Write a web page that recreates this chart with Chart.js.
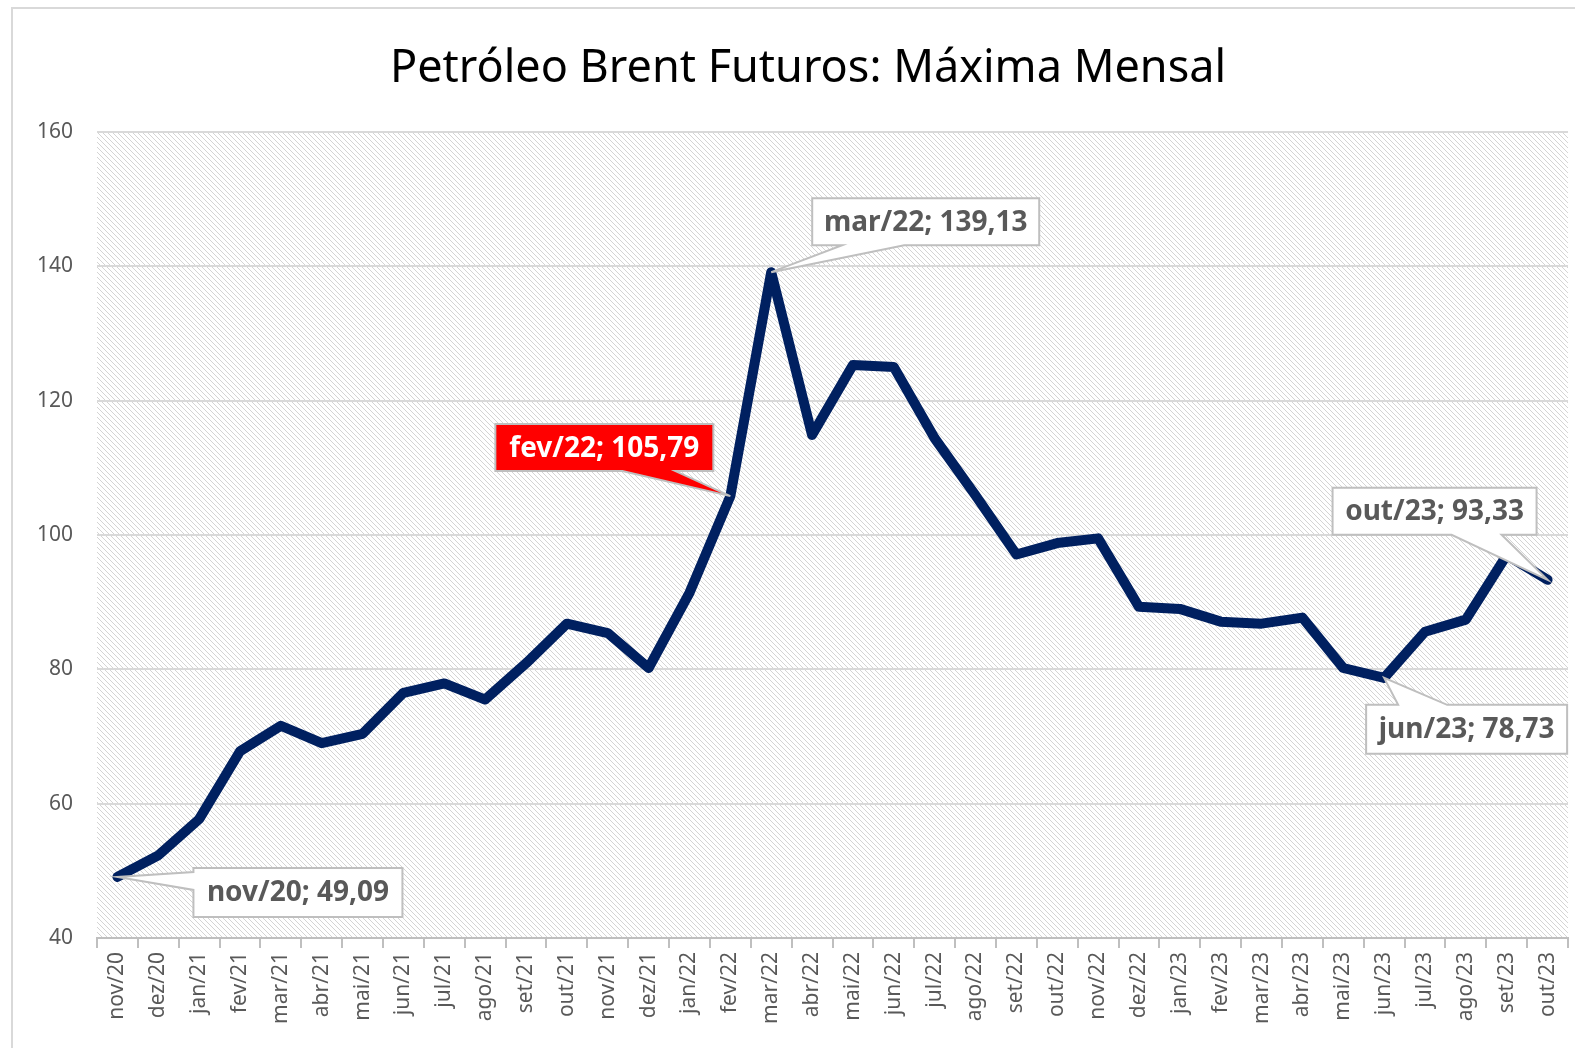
<!DOCTYPE html>
<html>
<head>
<meta charset="utf-8">
<script src="https://cdn.jsdelivr.net/npm/chart.js@4"></script>
<style>
  html, body { margin: 0; padding: 0; background: #ffffff; overflow: hidden; }
  #frame {
    position: absolute; left: 11px; top: 7px; width: 1562px; height: 1100px;
    border-left: 2px solid #d9d9d9; border-top: 2px solid #d9d9d9;
  }
  #wrap { position: absolute; left: 0; top: 0; width: 1583px; height: 1048px; }
</style>
</head>
<body>
<div id="frame"></div>
<div id="wrap"><canvas id="brentChart"></canvas></div>
<script>
/*
  @desc: monthly data
*/
const months = [
  "nov/20", "dez/20", "jan/21", "fev/21", "mar/21", "abr/21", "mai/21", "jun/21",
  "jul/21", "ago/21", "set/21", "out/21", "nov/21", "dez/21", "jan/22", "fev/22",
  "mar/22", "abr/22", "mai/22", "jun/22", "jul/22", "ago/22", "set/22", "out/22",
  "nov/22", "dez/22", "jan/23", "fev/23", "mar/23", "abr/23", "mai/23", "jun/23",
  "jul/23", "ago/23", "set/23", "out/23"
];
const maxima = [
  49.09, 52.3, 57.7, 67.8, 71.6, 69.0, 70.4, 76.5,
  77.9, 75.5, 80.9, 86.8, 85.4, 80.2, 91.4, 105.79,
  139.13, 114.9, 125.3, 125.0, 114.4, 105.9, 97.1, 98.8,
  99.5, 89.3, 89.0, 87.1, 86.8, 87.7, 80.2, 78.73,
  85.6, 87.4, 97.0, 93.33
];
const yTicks = [40, 60, 80, 100, 120, 140, 160];
const calloutMonths = ["nov/20", "fev/22", "mar/22", "jun/23", "out/23"];
const chartTitle = "Petróleo Brent Futuros: Máxima Mensal";

/*
  @desc: where each callout box sits relative to its point (layout only)
*/
const calloutStyle = {
  "nov/20": { dx: 76, dy: -9, w: 209, h: 49, side: "left", b0: 4, b1: 22, fill: "#ffffff", text: "#595959" },
  "fev/22": { dx: -235, dy: -72, w: 218, h: 47, side: "bottom", b0: 127, b1: 180, fill: "#ff0000", text: "#ffffff" },
  "mar/22": { dx: 41, dy: -74, w: 227, h: 47, side: "bottom", b0: 30, b1: 92, fill: "#ffffff", text: "#595959" },
  "jun/23": { dx: -18, dy: 27, w: 201, h: 49, side: "top", b0: 32, b1: 81, fill: "#ffffff", text: "#595959" },
  "out/23": { dx: -215, dy: -92, w: 204, h: 47, side: "bottom", b0: 119, b1: 169, fill: "#ffffff", text: "#595959" }
};

const FONT = "'Noto Sans', 'DejaVu Sans', sans-serif";

var makeHatch = function () {
  const n = 5;
  const c = document.createElement("canvas");
  c.width = n; c.height = n;
  const g = c.getContext("2d");
  g.strokeStyle = "#d4d4d4";
  g.lineWidth = 1;
  g.beginPath();
  g.moveTo(-1, -1); g.lineTo(n + 1, n + 1);
  g.moveTo(-1, n - 1); g.lineTo(1, n + 1);
  g.moveTo(n - 1, -1); g.lineTo(n + 1, 1);
  g.stroke();
  return c;
};

/*
  @desc: hatched plot background + title (title sits a bit right of the canvas centre)
*/
const hatchPlugin = {
  id: "hatch",
  beforeDraw(chart) {
    const a = chart.chartArea;
    const ctx = chart.ctx;
    ctx.save();
    ctx.fillStyle = ctx.createPattern(makeHatch(), "repeat");
    ctx.fillRect(a.left, a.top, a.right - a.left, a.bottom - a.top);
    ctx.fillStyle = "#000000";
    ctx.font = "45px " + FONT;
    ctx.textAlign = "center";
    ctx.textBaseline = "middle";
    ctx.fillText(chartTitle, 808, 69);
    ctx.restore();
  }
};

/*
  @desc: excel style callouts with a wedge pointing at the point
*/
const calloutPlugin = {
  id: "callouts",
  afterDatasetsDraw(chart) {
    const ctx = chart.ctx;
    const pts = chart.getDatasetMeta(0).data;
    for (const m of calloutMonths) {
      const i = months.indexOf(m);
      const s = calloutStyle[m];
      const px = pts[i].x, py = pts[i].y;
      const x = px + s.dx, y = py + s.dy, w = s.w, h = s.h;
      ctx.save();
      ctx.beginPath();
      ctx.moveTo(x, y);
      if (s.side === "top") {
        ctx.lineTo(x + s.b0, y); ctx.lineTo(px, py); ctx.lineTo(x + s.b1, y);
      }
      ctx.lineTo(x + w, y);
      ctx.lineTo(x + w, y + h);
      if (s.side === "bottom") {
        ctx.lineTo(x + s.b1, y + h); ctx.lineTo(px, py); ctx.lineTo(x + s.b0, y + h);
      }
      ctx.lineTo(x, y + h);
      if (s.side === "left") {
        ctx.lineTo(x, y + s.b1); ctx.lineTo(px, py); ctx.lineTo(x, y + s.b0);
      }
      ctx.closePath();
      ctx.fillStyle = s.fill;
      ctx.fill();
      ctx.strokeStyle = "#bfbfbf";
      ctx.lineWidth = 2;
      ctx.lineJoin = "miter";
      ctx.stroke();
      ctx.fillStyle = s.text;
      ctx.font = "bold 28px " + FONT;
      ctx.textAlign = "center";
      ctx.textBaseline = "middle";
      const label = months[i] + "; " + maxima[i].toFixed(2).replace(".", ",");
      ctx.fillText(label, x + w / 2, y + h / 2 + 1);
      ctx.restore();
    }
  }
};

let config = {
  type: "line",
  data: {
    labels: months,
    datasets: [
      {
        label: "Máxima Mensal",
        data: maxima,
        borderColor: "#002060",
        backgroundColor: "#002060",
        borderWidth: 10,
        borderJoinStyle: "round",
        borderCapStyle: "round",
        pointRadius: 0,
        tension: 0
      }
    ]
  },
  options: {
    responsive: true,
    maintainAspectRatio: false,
    animation: false,
    layout: { padding: { left: 0, right: 15, top: 132, bottom: 0 } },
    plugins: {
      legend: { display: false },
      tooltip: { enabled: false },
      title: { display: false }
    },
    scales: {
      x: {
        offset: true,
        grid: { offset: true, drawOnChartArea: false, drawTicks: true, tickLength: 10, color: "#bfbfbf", lineWidth: 2 },
        border: { display: true, color: "#bfbfbf", width: 2 },
        ticks: {
          minRotation: 90, maxRotation: 90, autoSkip: false, padding: 4,
          color: "#595959", font: { family: FONT, size: 21 }
        },
        afterFit(scale) { scale.height = 110; }
      },
      y: {
        min: 40, max: 160,
        afterBuildTicks(scale) { scale.ticks = yTicks.map(v => ({ value: v })); },
        grid: { color: "#d9d9d9", lineWidth: 2, drawTicks: false },
        border: { display: false },
        ticks: { padding: 24, color: "#595959", font: { family: FONT, size: 21 } },
        afterFit(scale) { scale.width = 97; }
      }
    }
  },
  plugins: [hatchPlugin, calloutPlugin]
};

const brentChart = new Chart(document.getElementById("brentChart"), config);
</script>
</body>
</html>
